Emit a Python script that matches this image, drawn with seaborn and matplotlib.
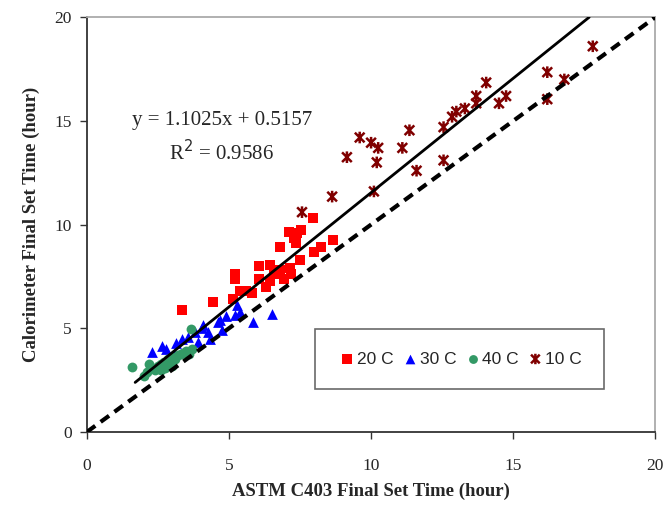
import numpy as np
import pandas as pd
import matplotlib
matplotlib.use('Agg')
import matplotlib.pyplot as plt
from matplotlib.path import Path
import seaborn as sns

# Data (hours)
astm_20c = [3.35, 4.45, 5.15, 5.2, 5.2, 5.4, 5.6, 5.8, 6.05, 6.05, 6.3, 6.45, 6.45, 6.6, 6.8,
            6.8, 6.95, 7.1, 7.15, 7.3, 7.4, 7.35, 7.5, 7.55, 7.95, 8.0, 8.25, 8.65, 7.2]
cal_20c = [5.9, 6.25, 6.4, 7.4, 7.6, 6.8, 6.8, 6.7, 7.4, 8.0, 7.0, 7.3, 8.05, 7.6, 7.8,
           8.9, 7.4, 9.65, 7.9, 9.35, 9.6, 9.1, 8.3, 9.75, 10.3, 8.7, 8.9, 9.25, 7.6]

astm_30c = [2.3, 2.65, 2.8, 3.15, 3.35, 3.55, 3.8, 4.05, 4.1, 4.25, 4.35, 4.6, 4.7, 4.75,
            4.9, 5.2, 5.3, 5.4, 5.85, 6.5, 3.05, 3.9]
cal_30c = [3.85, 4.15, 4.0, 4.3, 4.5, 4.6, 4.8, 5.0, 5.15, 4.8, 4.5, 5.3, 5.4, 4.9,
           5.6, 5.65, 6.1, 5.8, 5.3, 5.7, 3.75, 4.35]

astm_40c = [1.6, 3.65, 2.0, 2.1, 2.3, 2.4, 2.5, 2.6, 2.7, 2.75, 2.85, 2.9, 3.0, 3.1, 3.2,
            3.3, 3.4, 3.5, 3.6, 3.7, 2.2, 2.6, 3.0]
cal_40c = [3.15, 4.95, 2.7, 2.9, 3.1, 3.0, 3.2, 3.3, 3.35, 3.1, 3.5, 3.3, 3.6, 3.5, 3.7,
           3.75, 3.8, 3.9, 3.75, 4.0, 3.3, 3.0, 3.2]

astm_10c = [7.57, 8.63, 9.15, 9.6, 10.0, 10.25, 10.2, 10.1, 11.1, 11.35, 11.6, 12.55, 12.55,
            12.85, 13.0, 13.3, 13.7, 13.7, 14.05, 14.5, 14.75, 16.2, 16.2, 16.8, 17.8]
cal_10c = [10.6, 11.35, 13.25, 14.2, 13.95, 13.7, 13.0, 11.6, 13.7, 14.55, 12.6, 14.7, 13.1,
           15.2, 15.45, 15.6, 16.2, 15.85, 16.85, 15.85, 16.2, 17.35, 16.05, 17.0, 18.6]

groups = ['20 C', '30 C', '40 C', '10 C']
fit_slope = 1.1025
fit_intercept = 0.5157
fit_r2 = 0.9586

df = pd.concat([
    pd.DataFrame({'astm': astm_20c, 'cal': cal_20c, 'group': '20 C'}),
    pd.DataFrame({'astm': astm_30c, 'cal': cal_30c, 'group': '30 C'}),
    pd.DataFrame({'astm': astm_40c, 'cal': cal_40c, 'group': '40 C'}),
    pd.DataFrame({'astm': astm_10c, 'cal': cal_10c, 'group': '10 C'}),
], ignore_index=True)

# Excel-like "star" marker: an x with a vertical bar through it
star = Path([(-1, -1), (1, 1), (-1, 1), (1, -1), (0, -1.2), (0, 1.2)],
            [Path.MOVETO, Path.LINETO, Path.MOVETO, Path.LINETO, Path.MOVETO, Path.LINETO])

colors = {'20 C': '#FF0000', '30 C': '#0000FF', '40 C': '#339966', '10 C': '#800000'}
markers = {'20 C': 's', '30 C': '^', '40 C': 'o', '10 C': star}
sizes = {'20 C': 55, '30 C': 60, '40 C': 50, '10 C': 70}

sns.set_theme(style='white')
plt.rcParams['font.family'] = ['Liberation Serif', 'DejaVu Serif']

fig = plt.figure(figsize=(6.68, 5.07), dpi=100)
ax = fig.add_axes([0.130, 0.148, 0.851, 0.818])

for g in groups:
    sub = df[df['group'] == g]
    if g == '10 C':
        sns.scatterplot(data=sub, x='astm', y='cal', marker=markers[g], s=sizes[g],
                        facecolor='none', edgecolor=colors[g], linewidth=1.8,
                        label=g, ax=ax, zorder=3)
    else:
        sns.scatterplot(data=sub, x='astm', y='cal', marker=markers[g], s=sizes[g],
                        color=colors[g], linewidth=0, label=g, ax=ax, zorder=3)

# regression line and 1:1 line
x_fit = np.array([1.7, (20 - fit_intercept) / fit_slope])
ax.plot(x_fit, fit_slope * x_fit + fit_intercept, color='black', lw=2, zorder=4)
ax.plot([0, 20], [0, 20], color='black', lw=3, linestyle=(0, (2.5, 1.6)), zorder=4)

ax.text(4.75, 15.0, f'y = {fit_slope}x + {fit_intercept}', fontsize=15, ha='center', va='center')
ax.text(4.75, 13.45, f'R$^2$ = {fit_r2}', fontsize=15, ha='center', va='center')

ax.set_xlim(0, 20)
ax.set_ylim(0, 20)
ax.set_xticks([0, 5, 10, 15, 20])
ax.set_yticks([0, 5, 10, 15, 20])
ax.tick_params(axis='both', which='both', direction='out', length=5, width=1,
               labelsize=12.5, color='#333333', pad=6, bottom=True, left=True)
ax.tick_params(axis='x', pad=14)

ax.set_xlabel('ASTM C403 Final Set Time (hour)', fontsize=13.5, fontweight='bold', labelpad=6)
ax.set_ylabel('Calorimeter Final Set Time (hour)', fontsize=13.5, fontweight='bold', labelpad=10)

for side in ['left', 'bottom']:
    ax.spines[side].set_color('#333333')
    ax.spines[side].set_linewidth(1.3)
for side in ['top', 'right']:
    ax.spines[side].set_color('#aaaaaa')
    ax.spines[side].set_linewidth(1.3)

leg = ax.legend(loc='center', bbox_to_anchor=(0.656, 0.176), ncol=4, frameon=True,
                fancybox=False, borderpad=1.3, handletextpad=0.0, columnspacing=0.4,
                handlelength=1.1, markerscale=0.9, borderaxespad=0,
                prop={'family': 'Liberation Sans', 'size': 12.5})
leg.get_frame().set_edgecolor('#444444')
leg.get_frame().set_linewidth(1.2)

fig.savefig('out.png', dpi=100)
